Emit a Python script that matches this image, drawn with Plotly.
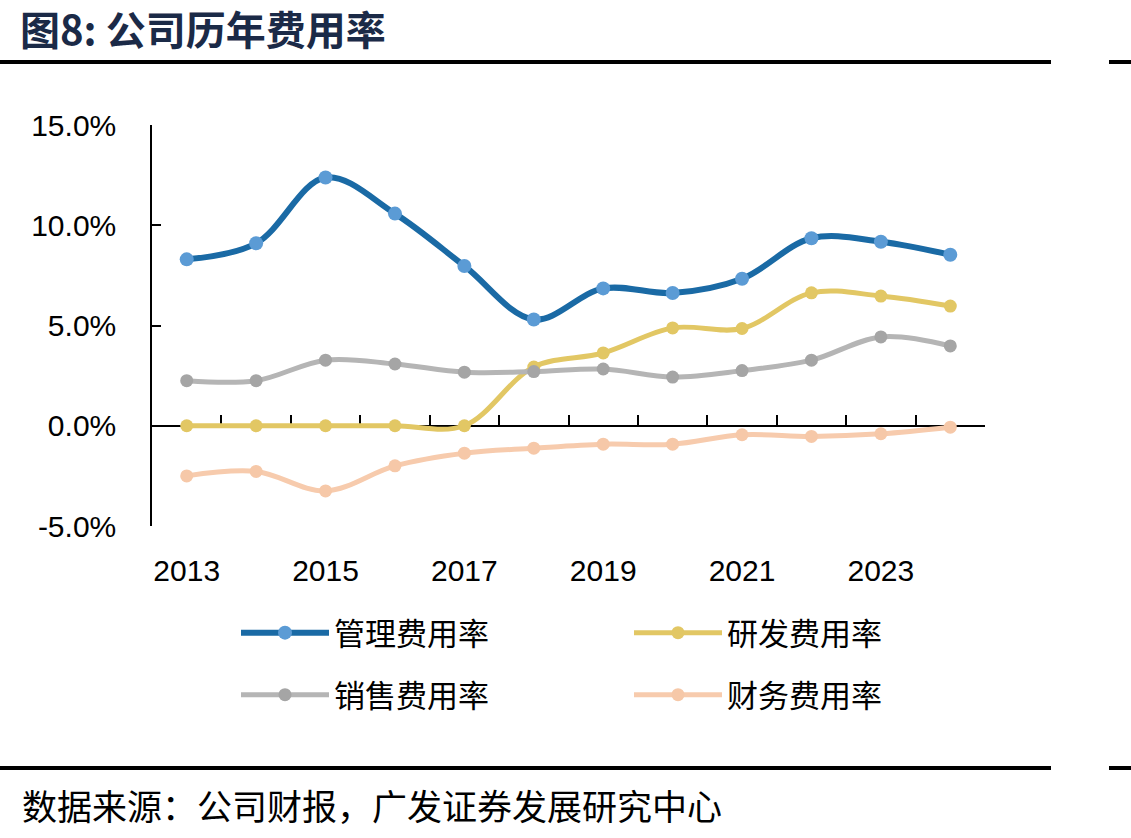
import plotly.graph_objects as go

years = [2013, 2014, 2015, 2016, 2017, 2018, 2019, 2020, 2021, 2022, 2023, 2024]
mgmt = [8.3, 9.1, 12.38, 10.58, 7.97, 5.3, 6.85, 6.62, 7.33, 9.35, 9.18, 8.53]
rnd = [0.0, 0.0, 0.0, 0.0, 0.0, 2.93, 3.63, 4.88, 4.85, 6.63, 6.47, 5.97]
sales = [2.25, 2.25, 3.27, 3.08, 2.67, 2.7, 2.83, 2.43, 2.75, 3.27, 4.43, 3.98]
fin = [-2.5, -2.28, -3.25, -2.0, -1.37, -1.12, -0.92, -0.92, -0.45, -0.53, -0.4, -0.07]
names = ["管理费用率", "研发费用率", "销售费用率", "财务费用率"]
year_ticks = [2013, 2015, 2017, 2019, 2021, 2023]
y_ticks = [-5, 0, 5, 10, 15]

W, H = 1131, 838
L, R, T, B = 152, 146, 125, 312
PW, PH = W - L - R, H - T - B

def px(x):
    return (x - L) / PW

def py(y):
    return (H - B - y) / PH

CJK = "Noto Sans CJK SC"
fig = go.Figure()

series = [
    (mgmt, names[0], "#1A6AA5", "#5B9BD5", 6, 14, "legend"),
    (rnd, names[1], "#E2C764", "#E2C764", 5, 13, "legend"),
    (sales, names[2], "#B5B5B5", "#A5A5A5", 5, 13, "legend2"),
    (fin, names[3], "#F7CBAD", "#F6C8A8", 5, 13, "legend2"),
]
for vals, nm, lc, mc, lw, ms, lg in series:
    fig.add_trace(go.Scatter(
        x=years, y=vals, name=nm, mode="lines+markers",
        line=dict(color=lc, width=lw, shape="spline", smoothing=1),
        marker=dict(color=mc, size=ms), legend=lg,
    ))

# dummy trace so the zero-line axis is drawn
fig.add_trace(go.Scatter(x=[None], y=[None], xaxis="x2", showlegend=False, hoverinfo="skip"))

leg_common = dict(
    orientation="h", xref="container", yref="container",
    xanchor="left", yanchor="middle",
    entrywidth=290, entrywidthmode="pixels", itemwidth=88,
    font=dict(family=CJK, size=31, color="black"), bgcolor="rgba(0,0,0,0)",
    traceorder="normal",
)

fig.update_layout(
    width=W, height=H,
    margin=dict(l=L, r=R, t=T, b=B),
    paper_bgcolor="white", plot_bgcolor="white",
    font=dict(family="Liberation Sans, Arial", color="black"),
    xaxis=dict(
        range=[2012.5, 2024.5], tickvals=year_ticks, ticktext=[str(y) for y in year_ticks],
        showline=False, showgrid=False, zeroline=False, ticks="",
        tickfont=dict(size=30, family="Liberation Sans, Arial", color="black"),
        ticklabelstandoff=24,
    ),
    xaxis2=dict(
        overlaying="x", anchor="free", position=0.25, side="bottom",
        range=[2012.5, 2024.5], tickvals=[2012.5 + i for i in range(13)],
        showticklabels=False, showline=True, linecolor="black", linewidth=1.5,
        ticks="inside", ticklen=10, tickwidth=1.5, tickcolor="black",
        showgrid=False, zeroline=False, layer="below traces",
    ),
    yaxis=dict(
        range=[-5, 15], tickvals=y_ticks, ticktext=[f"{v:.1f}%" for v in y_ticks],
        showline=True, linecolor="black", linewidth=1.5,
        ticks="inside", ticklen=9, tickwidth=1.5, tickcolor="black",
        showgrid=False, zeroline=False, layer="below traces",
        tickfont=dict(size=30, family="Liberation Sans, Arial", color="black"),
        ticklabelstandoff=28,
    ),
    legend=dict(x=236 / W, y=1 - 633 / H, **leg_common),
    legend2=dict(x=236 / W, y=1 - 695 / H, **leg_common),
    title=dict(
        text="<b>图8: 公司历年费用率</b>", xref="container", yref="container",
        x=20 / W, y=1 - 31 / H, xanchor="left", yanchor="middle",
        font=dict(family=CJK, size=40, color="#1B2A47"),
    ),
    showlegend=True,
)

line_style = dict(color="black", width=4)
for yy in (62, 768):
    fig.add_shape(type="line", xref="paper", yref="paper",
                  x0=px(0), x1=px(1051), y0=py(yy), y1=py(yy), line=line_style)
    fig.add_shape(type="line", xref="paper", yref="paper",
                  x0=px(1109), x1=px(1131), y0=py(yy), y1=py(yy), line=line_style)

fig.add_annotation(
    text="数据来源：公司财报，广发证券发展研究中心", xref="paper", yref="paper",
    x=px(20), y=py(804), xanchor="left", yanchor="middle", showarrow=False,
    font=dict(family=CJK, size=35, color="black"),
)

fig.write_html("out.html")
